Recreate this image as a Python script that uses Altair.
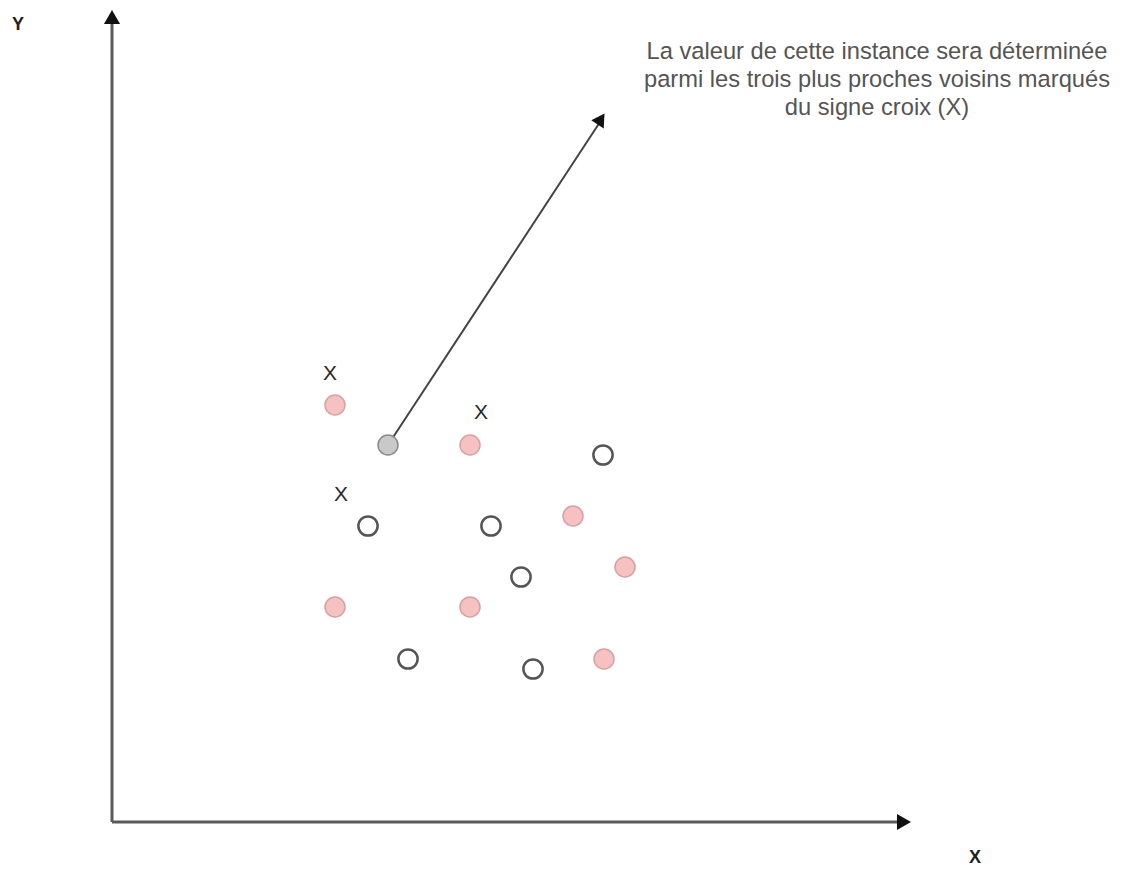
import altair as alt
import pandas as pd

# Picture coordinates (x to the right, y downward)
pink_x = [335, 470, 573, 625, 335, 470, 604]
pink_y = [405, 445, 516, 567, 607, 607, 659]
open_x = [603, 368, 491, 521, 408, 533]
open_y = [455, 526, 526, 577, 659, 669]
query_x = [388]
query_y = [445]
cross_x = [330, 481, 341]
cross_y = [374, 413, 495]

axis_segments = pd.DataFrame({
    "x": [112, 112], "y": [822, 822],
    "x2": [112, 900], "y2": [22, 822],
})
axis_heads = pd.DataFrame({"x": [112, 904], "y": [17, 822], "angle": [0, 90]})
axis_labels = pd.DataFrame({"x": [18, 975], "y": [25, 858], "t": ["Y", "X"]})

pointer = pd.DataFrame({"x": [388], "y": [445], "x2": [600], "y2": [122]})
pointer_head = pd.DataFrame({"x": [601], "y": [119], "angle": [33]})

note_lines = ["La valeur de cette instance sera déterminée",
              "parmi les trois plus proches voisins marqués",
              "du signe croix (X)"]
note_y = [52, 80, 108]
note = pd.DataFrame({"x": [877] * 3, "y": note_y, "t": note_lines})

W, H = 1121, 859
xs = alt.Scale(domain=[8, 8 + W], nice=False, zero=False)
ys = alt.Scale(domain=[8, 8 + H], nice=False, zero=False, reverse=True)
X = lambda f="x": alt.X(f"{f}:Q", scale=xs, axis=None)
Y = lambda f="y": alt.Y(f"{f}:Q", scale=ys, axis=None)

axes = alt.Chart(axis_segments).mark_rule(color="#5a5a5a", strokeWidth=3).encode(
    x=X(), y=Y(), x2="x2:Q", y2="y2:Q")
heads = alt.Chart(axis_heads).mark_point(
    shape="triangle-up", filled=True, color="#111111", size=260, opacity=1).encode(
    x=X(), y=Y(), angle=alt.Angle("angle:Q", scale=None))
alabels = alt.Chart(axis_labels).mark_text(
    fontSize=18, fontWeight="bold", color="#222222", font="Liberation Sans").encode(
    x=X(), y=Y(), text="t:N")

ptr = alt.Chart(pointer).mark_rule(color="#444444", strokeWidth=2).encode(
    x=X(), y=Y(), x2="x2:Q", y2="y2:Q")
ptr_head = alt.Chart(pointer_head).mark_point(
    shape="triangle-up", filled=True, color="#111111", size=220, opacity=1).encode(
    x=X(), y=Y(), angle=alt.Angle("angle:Q", scale=None))

pink = alt.Chart(pd.DataFrame({"x": pink_x, "y": pink_y})).mark_point(
    shape="circle", filled=True, fill="#f5c1c1", stroke="#d9a0a0",
    strokeWidth=1.5, size=400, opacity=1).encode(x=X(), y=Y())
hollow = alt.Chart(pd.DataFrame({"x": open_x, "y": open_y})).mark_point(
    shape="circle", filled=False, stroke="#555555", fill="white",
    strokeWidth=2.5, size=370, opacity=1).encode(x=X(), y=Y())
query = alt.Chart(pd.DataFrame({"x": query_x, "y": query_y})).mark_point(
    shape="circle", filled=True, fill="#c9c9c9", stroke="#8a8a8a",
    strokeWidth=1.5, size=400, opacity=1).encode(x=X(), y=Y())
crosses = alt.Chart(pd.DataFrame({"x": cross_x, "y": cross_y, "t": ["X"] * 3})).mark_text(
    fontSize=21, color="#2a2a2a", font="Liberation Sans").encode(
    x=X(), y=Y(), text="t:N")

text = alt.Chart(note).mark_text(
    fontSize=23.7, color="#555555", font="Liberation Sans", align="center").encode(
    x=X(), y=Y(), text="t:N")

chart = alt.layer(axes, heads, alabels, ptr, ptr_head, pink, hollow, query, crosses, text).properties(
    width=W, height=H,
    autosize=alt.AutoSizeParams(type="none"),
    padding=0,
).configure_view(stroke=None)

chart.save("out.html", embed_options={"renderer": "svg", "actions": False})
